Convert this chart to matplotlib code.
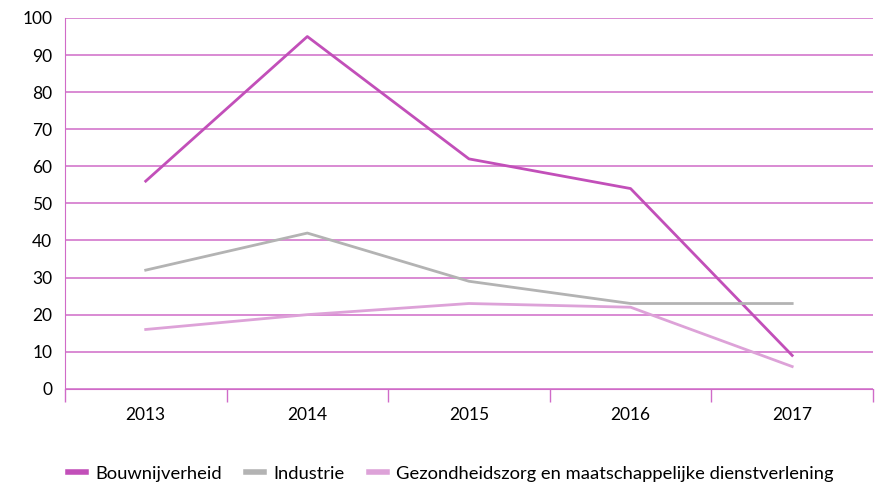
import numpy as np
import matplotlib
matplotlib.use('Agg')
import matplotlib.pyplot as plt

plt.rcParams['font.family'] = ['Lato', 'DejaVu Sans']

years = ['2013', '2014', '2015', '2016', '2017']
bouw = [56, 95, 62, 54, 9]
industrie = [32, 42, 29, 23, 23]
gezondheid = [16, 20, 23, 22, 6]
labels = ['Bouwnijverheid', 'Industrie',
          'Gezondheidszorg en maatschappelijke dienstverlening']

magenta = '#C24FB9'
grid_col = '#D06BC8'

fig = plt.figure(figsize=(8.89, 4.86), dpi=100)
ax = fig.add_axes([0.073, 0.2, 0.909, 0.763])

x = np.arange(len(years))
ax.plot(x, bouw, color=magenta, lw=2, label=labels[0])
ax.plot(x, industrie, color='#B3B3B3', lw=2, label=labels[1])
ax.plot(x, gezondheid, color='#DDA2D8', lw=2, label=labels[2])

ax.set_xlim(-0.5, len(years) - 0.5)
ax.set_ylim(0, 100)
ax.set_yticks(np.arange(0, 101, 10))
ax.yaxis.grid(True, color=grid_col, lw=1.1)
ax.set_axisbelow(True)

ax.set_xticks(x)
ax.set_xticklabels(years)
ax.set_xticks(np.arange(-0.5, len(years)), minor=True)
ax.tick_params(axis='x', which='major', length=0, pad=13, labelsize=12.5)
ax.tick_params(axis='x', which='minor', length=9, color=grid_col, width=1)
ax.tick_params(axis='y', length=0, pad=9, labelsize=12.5)

for s in ['top', 'right']:
    ax.spines[s].set_visible(False)
ax.spines['left'].set_color(grid_col)
ax.spines['bottom'].set_color(grid_col)

fig.legend(loc='lower left', bbox_to_anchor=(0.058, -0.025), ncol=3, frameon=False,
           fontsize=13.2, handlelength=1.0, handletextpad=0.5, columnspacing=1.3)
leg = fig.legends[0]
for h in leg.get_lines():
    h.set_linewidth(4)

fig.savefig('out.png', dpi=100)
